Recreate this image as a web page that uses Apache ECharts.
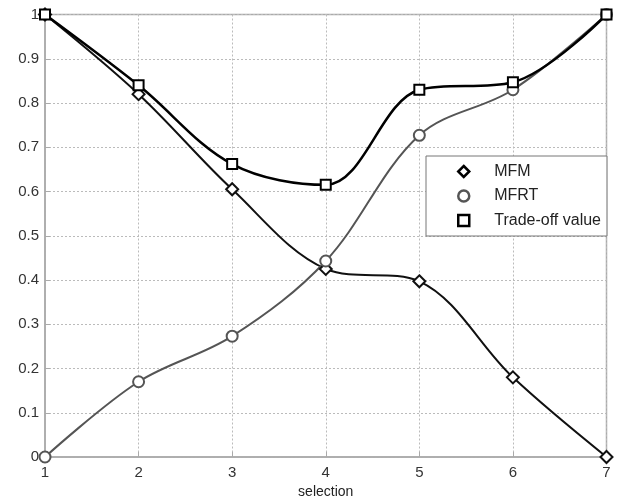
<!DOCTYPE html>
<html><head><meta charset="utf-8">
<script src="https://cdn.jsdelivr.net/npm/echarts@6/dist/echarts.min.js"></script>
<style>html,body{margin:0;padding:0;background:#fff}#c{width:622px;height:504px}</style>
</head><body><div id="c"></div>
<script>
const xValues = [1, 2, 3, 4, 5, 6, 7];
const mfm = [1, 0.82, 0.605, 0.425, 0.397, 0.18, 0];
const mfrt = [0, 0.17, 0.273, 0.443, 0.727, 0.83, 1];
const tradeoff = [1, 0.84, 0.662, 0.615, 0.83, 0.847, 1];
const seriesNames = ['MFM', 'MFRT', 'Trade-off value'];

const font = 'Liberation Sans, Arial, sans-serif';
const pair = arr => xValues.map((x, i) => [x, arr[i]]);
const chart = echarts.init(document.getElementById('c'));
const mk = (name, data, symbol, color, size, width) => ({
  name, type: 'line', data: pair(data), smooth: 0.35,
  symbol, symbolSize: size, showSymbol: true,
  lineStyle: { color, width },
  itemStyle: { color: '#fff', borderColor: color, borderWidth: 2 },
  emphasis: { disabled: true }, z: 3
});
chart.setOption({
  animation: false,
  grid: { left: 45, right: 15.5, top: 14.5, bottom: 46.5, show: true, borderColor: '#aaa', borderWidth: 1.5 },
  xAxis: {
    type: 'value', min: 1, max: 7, interval: 1,
    name: 'selection', nameLocation: 'middle', nameGap: 28,
    nameTextStyle: { fontFamily: font, fontSize: 14, color: '#222' },
    axisLine: { show: true, lineStyle: { color: '#aaa', width: 1.5 } },
    axisTick: { show: true, inside: true, length: 5, lineStyle: { color: '#aaa' } },
    axisLabel: { fontFamily: font, fontSize: 15, color: '#333', margin: 8 },
    splitLine: { show: true, lineStyle: { color: '#bbb', type: [2, 2], width: 1 } }
  },
  yAxis: {
    type: 'value', min: 0, max: 1, interval: 0.1,
    axisLine: { show: true, lineStyle: { color: '#aaa', width: 1.5 } },
    axisTick: { show: true, inside: true, length: 5, lineStyle: { color: '#aaa' } },
    axisLabel: { fontFamily: font, fontSize: 15, color: '#333', margin: 6,
      formatter: v => String(Math.round(v * 10) / 10) },
    splitLine: { show: true, lineStyle: { color: '#bbb', type: [2, 2], width: 1 } }
  },
  legend: {
    orient: 'vertical', left: 426, top: 156,
    backgroundColor: '#fff', borderColor: '#777', borderWidth: 1,
    padding: [7.5, 6, 7.5, 31], itemGap: 8.5, itemWidth: 11, itemHeight: 11,
    textStyle: { fontFamily: font, fontSize: 16, lineHeight: 16, color: '#222', padding: [0, 0, 0, 20] },
    data: [
      { name: seriesNames[0], icon: 'diamond', itemStyle: { color: '#fff', borderColor: '#000', borderWidth: 2.5 } },
      { name: seriesNames[1], icon: 'circle', itemStyle: { color: '#fff', borderColor: '#555', borderWidth: 2.5 } },
      { name: seriesNames[2], icon: 'rect', itemStyle: { color: '#fff', borderColor: '#000', borderWidth: 2.5 } }
    ],
    selectedMode: false
  },
  series: [
    mk(seriesNames[0], mfm, 'diamond', '#111', 12, 2),
    mk(seriesNames[1], mfrt, 'circle', '#555', 11, 2),
    mk(seriesNames[2], tradeoff, 'rect', '#000', 10, 2.5)
  ]
});
</script></body></html>
